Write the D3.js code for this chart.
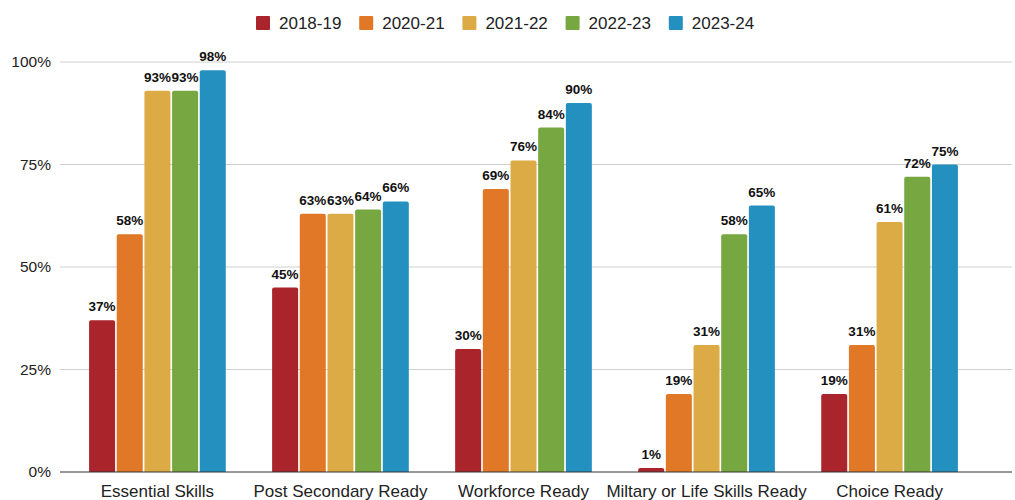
<!DOCTYPE html>
<html>
<head>
<meta charset="utf-8">
<script src="https://cdn.jsdelivr.net/npm/d3@7"></script>
<style>
  body { margin: 0; background: #fff; }
  text { font-family: "Liberation Sans", Arial, sans-serif; }
</style>
</head>
<body>
<div id="chart"></div>
<script>
// chart data
var categories = ["Essential Skills", "Post Secondary Ready", "Workforce Ready", "Miltary or Life Skills Ready", "Choice Ready"];
var years = ["2018-19", "2020-21", "2021-22", "2022-23", "2023-24"];
var values2018 = [37, 45, 30, 1, 19];
var values2020 = [58, 63, 69, 19, 31];
var values2021 = [93, 63, 76, 31, 61];
var values2022 = [93, 64, 84, 58, 72];
var values2023 = [98, 66, 90, 65, 75];
var yTicks = [0, 25, 50, 75, 100];
var colors = ["#aa242c", "#e07827", "#dcab45", "#76a741", "#2490c0"];

var series = [values2018, values2020, values2021, values2022, values2023];

var width = 1015, height = 500;
var svg = d3.select("#chart").append("svg")
    .attr("width", width)
    .attr("height", height);

// scales
var x0 = d3.scaleBand().domain(categories).range([66, 981]).paddingInner(0.235).paddingOuter(0.117);
var x1 = d3.scaleBand().domain(years).range([0, x0.bandwidth()]).padding(0.06);
var y = d3.scaleLinear().domain([0, 100]).range([472, 62]);

// gridlines + y labels
var grid = svg.append("g");
grid.selectAll("line")
  .data(yTicks.filter(function(d) { return d > 0; }))
  .enter().append("line")
  .attr("x1", 60).attr("x2", 1012)
  .attr("y1", function(d) { return y(d); })
  .attr("y2", function(d) { return y(d); })
  .attr("stroke", "#d0d0d0").attr("stroke-width", 1);

svg.append("g").selectAll("text")
  .data(yTicks)
  .enter().append("text")
  .attr("x", 51)
  .attr("y", function(d) { return y(d); })
  .attr("dy", "0.35em")
  .attr("text-anchor", "end")
  .attr("font-size", 15.5)
  .attr("fill", "#222")
  .text(function(d) { return d + "%"; });

// bars
var groups = svg.append("g").selectAll("g")
  .data(categories)
  .enter().append("g")
  .attr("transform", function(d) { return "translate(" + x0(d) + ",0)"; });

var barData = function(c, ci) {
  return years.map(function(yr, si) { return {year: yr, value: series[si][ci], color: colors[si]}; });
};

groups.selectAll("path")
  .data(function(c, ci) { return barData(c, ci); })
  .enter().append("path")
  .attr("fill", function(d) { return d.color; })
  .attr("d", function(d) {
    var bx = x1(d.year), bw = x1.bandwidth(), top = y(d.value), bot = y(0), r = 2;
    r = Math.min(r, (bot - top) / 2);
    return "M" + bx + "," + bot + "V" + (top + r) + "Q" + bx + "," + top + " " + (bx + r) + "," + top +
      "H" + (bx + bw - r) + "Q" + (bx + bw) + "," + top + " " + (bx + bw) + "," + (top + r) + "V" + bot + "Z";
  });

groups.selectAll("text")
  .data(function(c, ci) { return barData(c, ci); })
  .enter().append("text")
  .attr("x", function(d) { return x1(d.year) + x1.bandwidth() / 2; })
  .attr("y", function(d) { return y(d.value) - 9; })
  .attr("text-anchor", "middle")
  .attr("font-family", "Roboto, sans-serif")
  .attr("font-weight", "bold")
  .attr("font-size", 13.5)
  .attr("fill", "#111")
  .text(function(d) { return d.value + "%"; });

// baseline
svg.append("line")
  .attr("x1", 60).attr("x2", 1012)
  .attr("y1", y(0)).attr("y2", y(0))
  .attr("stroke", "#333").attr("stroke-width", 1);

// category labels
svg.append("g").selectAll("text")
  .data(categories)
  .enter().append("text")
  .attr("x", function(d) { return x0(d) + x0.bandwidth() / 2; })
  .attr("y", 497)
  .attr("text-anchor", "middle")
  .attr("font-size", 17)
  .attr("fill", "#222")
  .text(function(d) { return d; });

// legend
var legend = svg.append("g").selectAll("g")
  .data(years)
  .enter().append("g")
  .attr("transform", function(d, i) { return "translate(" + (256 + i * 103.2) + ",16)"; });
legend.append("rect")
  .attr("width", 14).attr("height", 14).attr("rx", 1)
  .attr("fill", function(d, i) { return colors[i]; });
legend.append("text")
  .attr("x", 23).attr("y", 7).attr("dy", "0.35em")
  .attr("font-size", 17)
  .attr("fill", "#222")
  .text(function(d) { return d; });
</script>
</body>
</html>
